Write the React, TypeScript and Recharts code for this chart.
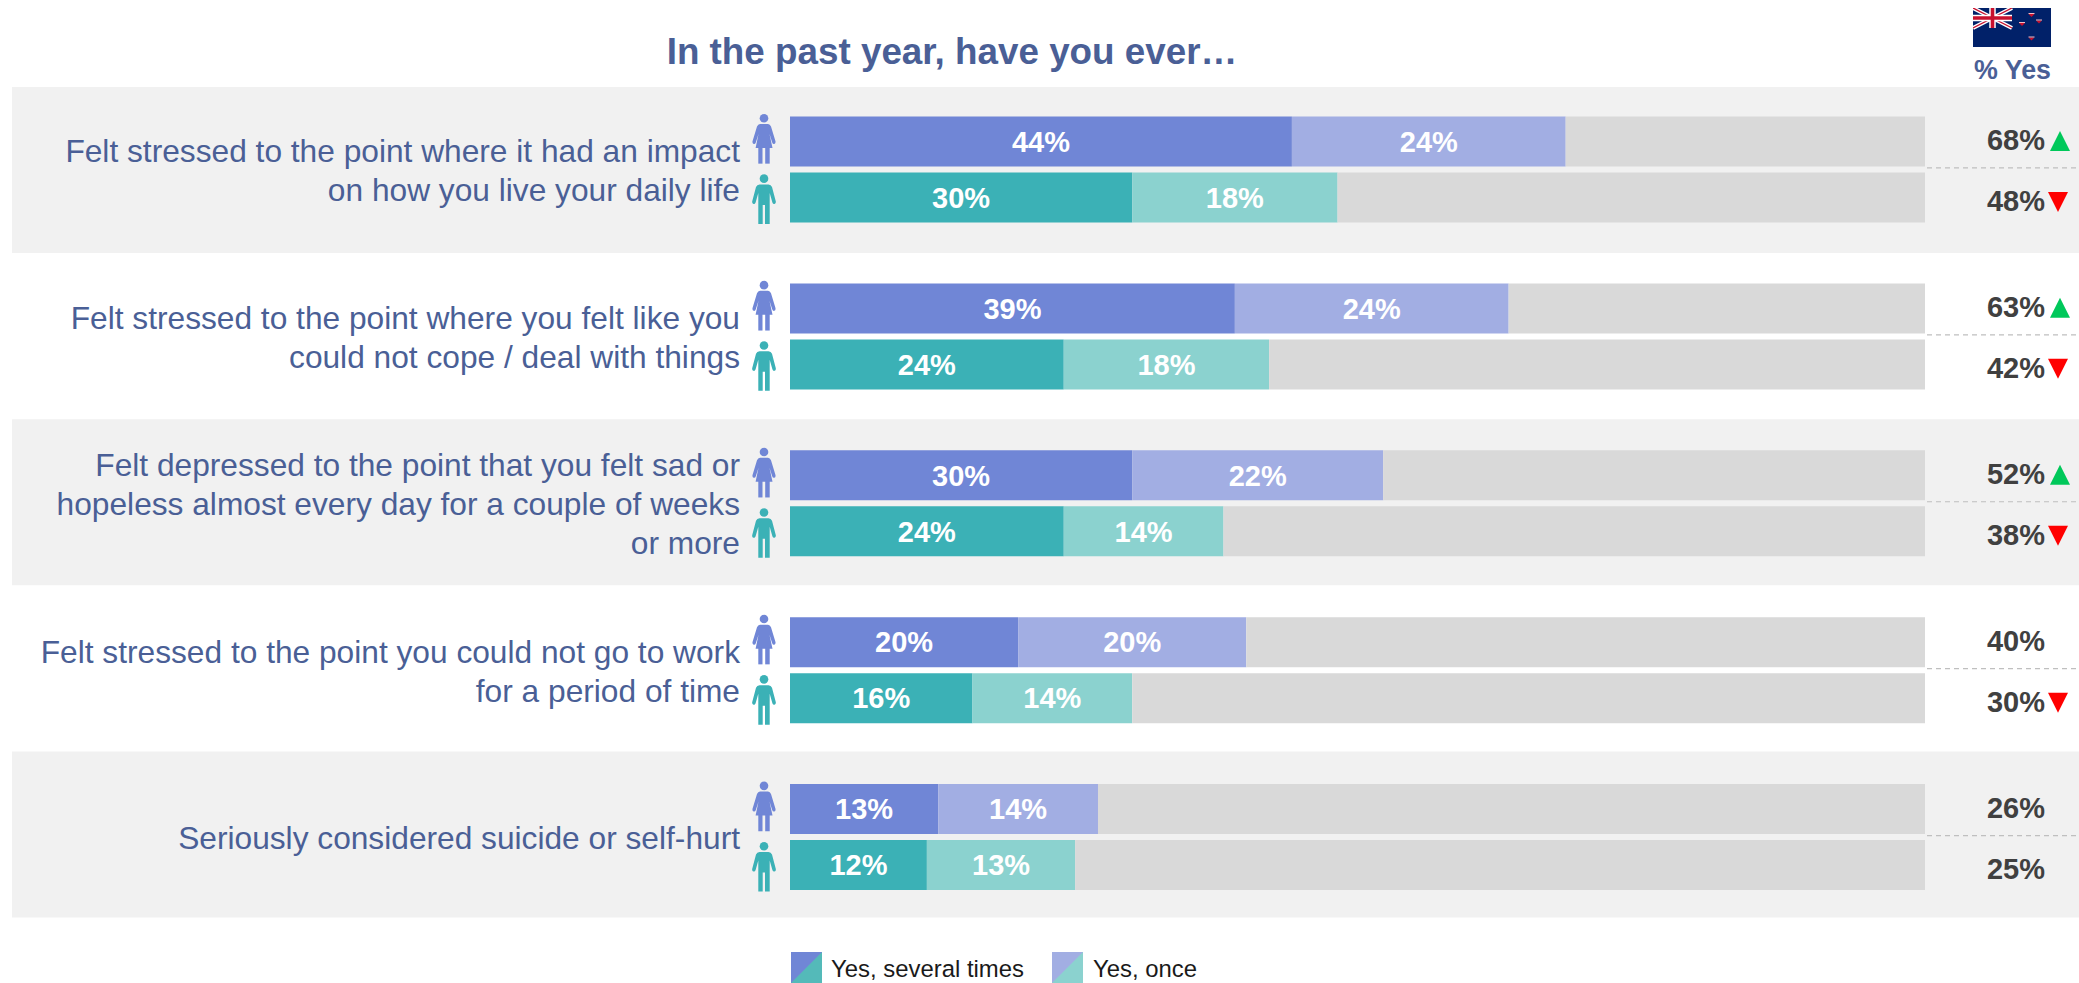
import React from "react";
import { BarChart, Bar, XAxis, YAxis, LabelList, ReferenceArea } from "recharts";

const FONT = "'Liberation Sans', Arial, sans-serif";
const BLUE_TEXT = "#4a5f96";
const DARK_TEXT = "#404040";
const FEMALE_SEVERAL = "#7086d6";
const FEMALE_ONCE = "#a2aee3";
const MALE_SEVERAL = "#3bb1b6";
const MALE_ONCE = "#8bd2cf";
const TRACK = "#d9d9d9";
const AXIS_MAX = 99.5;

const questionLines = [
  ["Felt stressed to the point where it had an impact", "on how you live your daily life"],
  ["Felt stressed to the point where you felt like you", "could not cope / deal with things"],
  ["Felt depressed to the point that you felt sad or", "hopeless almost every day for a couple of weeks", "or more"],
  ["Felt stressed to the point you could not go to work", "for a period of time"],
  ["Seriously considered suicide or self-hurt"],
];
const femaleSeveral = [44, 39, 30, 20, 13];
const femaleOnce = [24, 24, 22, 20, 14];
const maleSeveral = [30, 24, 24, 16, 12];
const maleOnce = [18, 18, 14, 14, 13];
const femaleTotals = [68, 63, 52, 40, 26];
const maleTotals = [48, 42, 38, 30, 25];
const femaleTrend = ["up", "up", "up", "", ""];
const maleTrend = ["down", "down", "down", "down", ""];
const shadedRows = [0, 2, 4];

// The grey track is the part of each bar left over after both answers.
const rows = questionLines.map((lines, i) => ({
  question: lines.join(" "),
  femaleSeveral: femaleSeveral[i],
  femaleOnce: femaleOnce[i],
  femaleRest: AXIS_MAX - femaleSeveral[i] - femaleOnce[i],
  maleSeveral: maleSeveral[i],
  maleOnce: maleOnce[i],
  maleRest: AXIS_MAX - maleSeveral[i] - maleOnce[i],
}));

const Female = ({ x, y }: { x: number; y: number }) => (
  <g transform={`translate(${x},${y})`} fill={FEMALE_SEVERAL}>
    <circle cx={12} cy={4.3} r={4.3} />
    <path d="M8,10 H16 Q18,10 19,12.5 L23.4,27 Q24,29.5 22.3,30 Q20.8,30.3 20.2,28.5 L17.5,20 L20.5,34 H3.6 L6.5,20 L3.8,28.5 Q3.2,30.3 1.7,30 Q0,29.5 0.6,27 L5,12.5 Q6,10 8,10 Z" />
    <rect x={6.3} y={33} width={4.2} height={16.7} />
    <rect x={13.2} y={33} width={4.5} height={16.7} />
  </g>
);

const Male = ({ x, y }: { x: number; y: number }) => (
  <g transform={`translate(${x},${y})`} fill={MALE_SEVERAL}>
    <circle cx={12} cy={4.7} r={4.3} />
    <path d="M7.5,10.5 H16.5 Q19,10.5 20,13 L23.7,27 Q24.3,29.5 22.5,30 Q21,30.3 20.4,28.5 L17.7,19 V50 H13 V31 H10.7 V50 H6.3 V19 L3.6,28.5 Q3,30.3 1.5,30 Q-0.3,29.5 0.3,27 L4,13 Q5,10.5 7.5,10.5 Z" />
  </g>
);

// Question wording plus the female and male pictograms beside each pair of bars.
const QuestionTick = (props: any) => {
  const { x, y, payload } = props;
  const lines = questionLines[payload.index];
  const fontSize = 31.7;
  const lineHeight = 39;
  const firstBaseline = y - ((lines.length - 1) * lineHeight) / 2 + fontSize * 0.36;
  return (
    <g>
      <text textAnchor="end" fontFamily={FONT} fontSize={fontSize} fill={BLUE_TEXT}>
        {lines.map((line, i) => (
          <tspan key={i} x={x - 50} y={firstBaseline + i * lineHeight}>
            {line}
          </tspan>
        ))}
      </text>
      <Female x={x - 38} y={y - 56} />
      <Male x={x - 38} y={y + 4} />
    </g>
  );
};

const Trend = ({ x, y, dir }: { x: number; y: number; dir: string }) => {
  if (dir === "up") return <polygon points={`${x},${y + 10} ${x + 20},${y + 10} ${x + 10},${y - 10}`} fill="#00c85a" />;
  if (dir === "down") return <polygon points={`${x - 2},${y - 10} ${x + 18},${y - 10} ${x + 8},${y + 10}`} fill="#ff0000" />;
  return null;
};

// Totals column to the right of the bars, split by a dashed rule.
const TotalsTick = (props: any) => {
  const { x, y, payload } = props;
  const i = payload.index;
  const textProps = {
    x: x + 91,
    textAnchor: "middle" as const,
    fontFamily: FONT,
    fontSize: 29,
    fontWeight: 700,
    fill: DARK_TEXT,
  };
  return (
    <g>
      <line x1={x + 2} x2={x + 154} y1={y - 2} y2={y - 2} stroke="#bfbfbf" strokeWidth={1.2} strokeDasharray="5 4" />
      <text {...textProps} y={y - 20}>{femaleTotals[i]}%</text>
      <text {...textProps} y={y + 41}>{maleTotals[i]}%</text>
      <Trend x={x + 125} y={y - 29} dir={femaleTrend[i]} />
      <Trend x={x + 125} y={y + 32} dir={maleTrend[i]} />
    </g>
  );
};

const Swatch = ({ x, y, top, bottom }: { x: number; y: number; top: string; bottom: string }) => (
  <g transform={`translate(${x},${y})`}>
    <rect width={31} height={31} fill={top} />
    <polygon points="31,0 31,31 0,31" fill={bottom} />
  </g>
);

const Flag = () => (
  <svg style={{ position: "absolute", left: 1973, top: 8 }} width={78} height={39} viewBox="0 0 78 39">
    <rect width={78} height={39} fill="#012169" />
    <path d="M0,0 L39,20 M39,0 L0,20" stroke="#ffffff" strokeWidth={4} />
    <path d="M0,0 L39,20 M39,0 L0,20" stroke="#c8102e" strokeWidth={1.4} />
    <path d="M19.5,0 V20 M0,10 H39" stroke="#ffffff" strokeWidth={6.5} />
    <path d="M19.5,0 V20 M0,10 H39" stroke="#c8102e" strokeWidth={3.6} />
    {[[58.5, 7.5], [49, 16.5], [66, 14], [58.5, 31]].map(([cx, cy], i) => (
      <g key={i}>
        <polygon points={`${cx - 3},${cy - 1.5} ${cx + 3},${cy - 1.5} ${cx},${cy + 1.5}`} fill="#c8102e" />
        <line x1={cx - 3} x2={cx + 3} y1={cy - 2} y2={cy - 2} stroke="#f0c0c8" strokeWidth={1} />
      </g>
    ))}
  </svg>
);

const labelStyle = { fill: "#ffffff", fontFamily: FONT, fontSize: 29, fontWeight: 700 };
const asPercent = (v: any) => `${v}%`;

export default function App() {
  return (
    <div style={{ position: "absolute", left: 0, top: 0, width: 2079, height: 983, overflow: "hidden", background: "#fff" }}>
      <BarChart
        width={2079}
        height={983}
        data={rows}
        layout="vertical"
        margin={{ top: 86.5, right: 0, bottom: 62, left: 0 }}
        barSize={50}
        barGap={6}
      >
        <XAxis type="number" domain={[0, AXIS_MAX]} hide />
        <YAxis
          yAxisId="questions"
          type="category"
          dataKey="question"
          width={790}
          interval={0}
          axisLine={false}
          tickLine={false}
          tickSize={0}
          tickMargin={0}
          tick={QuestionTick}
        />
        <YAxis
          yAxisId="totals"
          orientation="right"
          type="category"
          dataKey="question"
          width={154}
          interval={0}
          axisLine={false}
          tickLine={false}
          tickSize={0}
          tickMargin={0}
          tick={TotalsTick}
        />
        <YAxis yAxisId="bands" type="category" dataKey="question" hide width={0} padding={{ top: 0.5, bottom: 3.5 }} />
        {shadedRows.map((i) => (
          <ReferenceArea
            key={i}
            yAxisId="bands"
            x1={-68.2}
            x2={113}
            y1={rows[i].question}
            y2={rows[i].question}
            fill="#f1f1f1"
            fillOpacity={1}
            stroke="none"
            ifOverflow="visible"
          />
        ))}
        <Bar yAxisId="questions" dataKey="femaleSeveral" stackId="female" fill={FEMALE_SEVERAL} isAnimationActive={false}>
          <LabelList dataKey="femaleSeveral" position="center" formatter={asPercent} style={labelStyle} />
        </Bar>
        <Bar yAxisId="questions" dataKey="femaleOnce" stackId="female" fill={FEMALE_ONCE} isAnimationActive={false}>
          <LabelList dataKey="femaleOnce" position="center" formatter={asPercent} style={labelStyle} />
        </Bar>
        <Bar yAxisId="questions" dataKey="femaleRest" stackId="female" fill={TRACK} isAnimationActive={false} />
        <Bar yAxisId="questions" dataKey="maleSeveral" stackId="male" fill={MALE_SEVERAL} isAnimationActive={false}>
          <LabelList dataKey="maleSeveral" position="center" formatter={asPercent} style={labelStyle} />
        </Bar>
        <Bar yAxisId="questions" dataKey="maleOnce" stackId="male" fill={MALE_ONCE} isAnimationActive={false}>
          <LabelList dataKey="maleOnce" position="center" formatter={asPercent} style={labelStyle} />
        </Bar>
        <Bar yAxisId="questions" dataKey="maleRest" stackId="male" fill={TRACK} isAnimationActive={false} />
      </BarChart>
      <Flag />
      <svg style={{ position: "absolute", left: 0, top: 0, pointerEvents: "none" }} width={2079} height={983}>
        <text x={952} y={64} textAnchor="middle" fontFamily={FONT} fontSize={36.8} fontWeight={700} fill={BLUE_TEXT}>
          In the past year, have you ever…
        </text>
        <text x={2012.5} y={79} textAnchor="middle" fontFamily={FONT} fontSize={26.8} fontWeight={700} fill={BLUE_TEXT}>
          % Yes
        </text>
        <Swatch x={791} y={952} top={FEMALE_SEVERAL} bottom="#54bab9" />
        <text x={831} y={977} fontFamily={FONT} fontSize={23.9} fill="#1a1a1a">Yes, several times</text>
        <Swatch x={1052} y={952} top={FEMALE_ONCE} bottom={MALE_ONCE} />
        <text x={1093} y={977} fontFamily={FONT} fontSize={23.9} fill="#1a1a1a">Yes, once</text>
      </svg>
    </div>
  );
}
